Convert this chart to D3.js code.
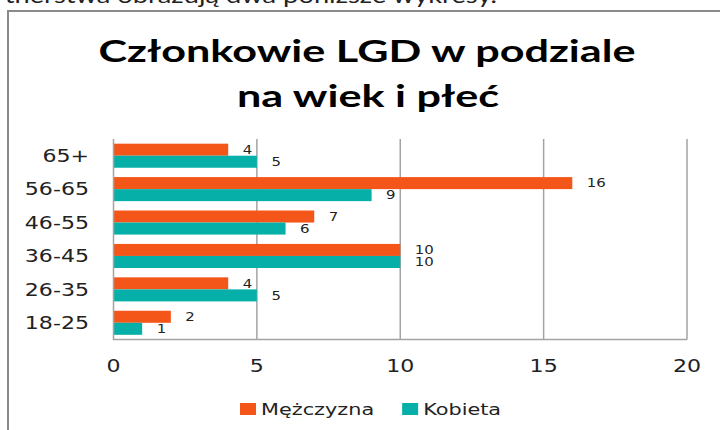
<!DOCTYPE html>
<html>
<head>
<meta charset="utf-8">
<script src="https://cdn.jsdelivr.net/npm/d3@7"></script>
<style>
  body { margin: 0; background: #fff; }
  svg { display: block; }
</style>
</head>
<body>
<div id="chart"></div>
<script>
// chart data
var categories = ["65+", "56-65", "46-55", "36-45", "26-35", "18-25"];
var men = [4, 16, 7, 10, 4, 2];
var women = [5, 9, 6, 10, 5, 1];
var seriesNames = ["Mężczyzna", "Kobieta"];
var xTicks = [0, 5, 10, 15, 20];
var titleLines = ["Członkowie LGD w podziale", "na wiek i płeć"];
var pageText = "partnerstwa obrazują dwa poniższe wykresy.";

(function(){
    "use strict";

    var W = 720, H = 430;
    var K = 1.3;   // the picture is stretched sideways
    var colors = ["#f4561a", "#06b0a9"];
    var sans = "'DejaVu Sans', Verdana, sans-serif";

    var svg = d3.select("#chart").append("svg")
        .attr("width", W).attr("height", H);

    svg.append("rect").attr("width", W).attr("height", H).attr("fill", "#fff");

    // put text with a sideways stretch
    function put(g, x, y, str, size, anchor, k) {
        return g.append("text")
            .attr("transform", "translate(" + x + "," + y + ") scale(" + k + ",1)")
            .attr("text-anchor", anchor)
            .style("font-family", sans)
            .style("font-size", size + "px")
            .attr("fill", "#222")
            .text(str);
    }

    // text of the page above the chart box
    put(svg, 497, 3, pageText, 21, "end", K)
        .style("font-family", "Lato, 'Open Sans', sans-serif");

    // chart frame
    svg.append("path")
        .attr("d", "M8," + (H + 2) + "V11H" + (W + 2))
        .attr("fill", "none")
        .attr("stroke", "#8a8a8a")
        .attr("stroke-width", 2);

    // title
    var t1 = put(svg, 367, 62, titleLines[0], 31, "middle", 1)
        .style("font-family", "Lato, 'Open Sans', sans-serif")
        .style("font-weight", 700).attr("fill", "#000");
    var tk = 537 / t1.node().getComputedTextLength();
    t1.attr("transform", "translate(367,62) scale(" + tk + ",1)");
    put(svg, 368, 107, titleLines[1], 31, "middle", tk)
        .style("font-family", "Lato, 'Open Sans', sans-serif")
        .style("font-weight", 700).attr("fill", "#000");

    var margin = {left: 113.5, right: W - 687, top: 139, bottom: H - 339.5};

    var x = d3.scaleLinear()
        .domain([0, 20])
        .range([margin.left, W - margin.right]);

    var y = d3.scaleBand()
        .domain(categories)
        .range([margin.top, H - margin.bottom])
        .paddingInner(0.28)
        .paddingOuter(0.14);

    var ySub = d3.scaleBand()
        .domain(seriesNames)
        .range([0, y.bandwidth()]);

    var rows = categories.map(function(c, i) {
        return {cat: c, values: [men[i], women[i]]};
    });

    // gridlines
    svg.append("g").selectAll("line")
        .data(xTicks.filter(function(d) { return d > 0; }))
        .enter().append("line")
        .attr("x1", function(d) { return x(d); })
        .attr("x2", function(d) { return x(d); })
        .attr("y1", margin.top)
        .attr("y2", H - margin.bottom)
        .attr("stroke", "#a3a3a3")
        .attr("stroke-width", 1.5);

    // bars
    var groups = svg.append("g").selectAll("g")
        .data(rows)
        .enter().append("g")
        .attr("transform", function(d) { return "translate(0," + y(d.cat) + ")"; });

    groups.selectAll("rect")
        .data(function(d) { return d.values.map(function(v, i) { return {v: v, s: seriesNames[i], i: i}; }); })
        .enter().append("rect")
        .attr("x", x(0))
        .attr("y", function(d) { return ySub(d.s); })
        .attr("width", function(d) { return x(d.v) - x(0); })
        .attr("height", ySub.bandwidth())
        .attr("fill", function(d) { return colors[d.i]; });

    // data labels
    groups.each(function(d) {
        var g = d3.select(this);
        d.values.forEach(function(v, i) {
            put(g, x(v) + 14.5, ySub(seriesNames[i]) + ySub.bandwidth() / 2 + 4.3, v, 11.5, "start", K);
        });
    });

    // axis lines
    svg.append("path")
        .attr("d", "M" + x(0) + "," + margin.top + "V" + (H - margin.bottom) + "H" + x(20))
        .attr("fill", "none")
        .attr("stroke", "#a3a3a3")
        .attr("stroke-width", 1.5);

    // category labels
    var yl = svg.append("g");
    categories.forEach(function(c) {
        put(yl, 89, y(c) + y.bandwidth() / 2 + 6.2, c, 17, "end", K);
    });

    // x tick labels
    var xl = svg.append("g");
    xTicks.forEach(function(t) {
        put(xl, x(t), 372, t, 17, "middle", K);
    });

    // legend
    var lg = svg.append("g");
    var lx = 240;
    seriesNames.forEach(function(s, i) {
        lg.append("rect")
            .attr("x", lx).attr("y", 403)
            .attr("width", 16).attr("height", 12)
            .attr("fill", colors[i]);
        var tx = put(lg, lx + 21, 414.5, s, 16, "start", K);
        lx += 21 + tx.node().getComputedTextLength() * K + 28;
    });

}());
</script>
</body>
</html>
